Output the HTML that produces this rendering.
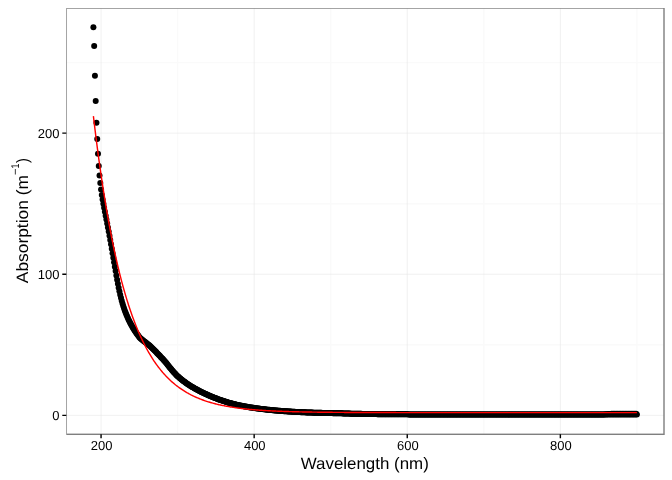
<!DOCTYPE html>
<html><head><meta charset="utf-8"><title>Absorption</title>
<style>html,body{margin:0;padding:0;background:#fff}body{width:672px;height:480px;overflow:hidden}svg{display:block}text{font-family:"Liberation Sans",sans-serif;fill:#000;text-rendering:geometricPrecision}</style></head><body>
<svg width="672" height="480" viewBox="0 0 672 480">
<rect x="0" y="0" width="672" height="480" fill="#fff"/>
<path d="M66.3 344.80H664.0M66.3 203.70H664.0M66.3 62.60H664.0M177.61 8.0V434.3M330.70 8.0V434.3M483.80 8.0V434.3M636.90 8.0V434.3" stroke="#fafafa" stroke-width="1.42" fill="none"/>
<path d="M66.3 415.35H664.0M66.3 274.25H664.0M66.3 133.15H664.0M101.06 8.0V434.3M254.16 8.0V434.3M407.25 8.0V434.3M560.36 8.0V434.3" stroke="#e5e5e5" stroke-width="0.6" fill="none"/>
<g fill="#000">
<circle cx="93.40" cy="27.25" r="3.0"/>
<circle cx="94.17" cy="45.90" r="3.0"/>
<circle cx="94.93" cy="75.75" r="3.0"/>
<circle cx="95.70" cy="100.90" r="3.0"/>
<circle cx="96.46" cy="122.75" r="3.0"/>
<circle cx="97.23" cy="139.00" r="3.0"/>
<circle cx="97.99" cy="153.75" r="3.0"/>
<circle cx="98.76" cy="165.90" r="3.0"/>
<circle cx="99.52" cy="175.60" r="3.0"/>
<circle cx="100.29" cy="183.10" r="3.0"/>
<circle cx="101.06" cy="189.60" r="3.0"/>
<circle cx="101.82" cy="195.00" r="3.0"/>
<circle cx="102.59" cy="199.55" r="3.0"/>
<circle cx="103.35" cy="203.79" r="3.0"/>
<circle cx="104.12" cy="207.84" r="3.0"/>
<circle cx="104.88" cy="211.77" r="3.0"/>
<circle cx="105.65" cy="215.65" r="3.0"/>
<circle cx="106.41" cy="219.51" r="3.0"/>
<circle cx="107.18" cy="223.41" r="3.0"/>
<circle cx="107.94" cy="227.40" r="3.0"/>
<circle cx="108.71" cy="231.51" r="3.0"/>
<circle cx="109.48" cy="235.71" r="3.0"/>
<circle cx="110.24" cy="240.00" r="3.0"/>
<circle cx="111.01" cy="244.37" r="3.0"/>
<circle cx="111.77" cy="248.81" r="3.0"/>
<circle cx="112.54" cy="253.28" r="3.0"/>
<circle cx="113.30" cy="257.77" r="3.0"/>
<circle cx="114.07" cy="262.25" r="3.0"/>
<circle cx="114.83" cy="266.70" r="3.0"/>
<circle cx="115.60" cy="271.11" r="3.0"/>
<circle cx="116.37" cy="275.44" r="3.0"/>
<circle cx="117.13" cy="279.69" r="3.0"/>
<circle cx="117.90" cy="283.80" r="3.0"/>
<circle cx="118.66" cy="287.70" r="3.0"/>
<circle cx="119.43" cy="291.34" r="3.0"/>
<circle cx="120.19" cy="294.72" r="3.0"/>
<circle cx="120.96" cy="297.85" r="3.0"/>
<circle cx="121.72" cy="300.74" r="3.0"/>
<circle cx="122.49" cy="303.42" r="3.0"/>
<circle cx="123.25" cy="305.93" r="3.0"/>
<circle cx="124.02" cy="308.26" r="3.0"/>
<circle cx="124.79" cy="310.45" r="3.0"/>
<circle cx="125.55" cy="312.51" r="3.0"/>
<circle cx="126.32" cy="314.45" r="3.0"/>
<circle cx="127.08" cy="316.28" r="3.0"/>
<circle cx="127.85" cy="318.02" r="3.0"/>
<circle cx="128.61" cy="319.67" r="3.0"/>
<circle cx="129.38" cy="321.25" r="3.0"/>
<circle cx="130.14" cy="322.76" r="3.0"/>
<circle cx="130.91" cy="324.20" r="3.0"/>
<circle cx="131.68" cy="325.58" r="3.0"/>
<circle cx="132.44" cy="326.92" r="3.0"/>
<circle cx="133.21" cy="328.20" r="3.0"/>
<circle cx="133.97" cy="329.44" r="3.0"/>
<circle cx="134.74" cy="330.63" r="3.0"/>
<circle cx="135.50" cy="331.79" r="3.0"/>
<circle cx="136.27" cy="332.91" r="3.0"/>
<circle cx="137.03" cy="334.00" r="3.0"/>
<circle cx="137.80" cy="335.06" r="3.0"/>
<circle cx="138.56" cy="336.12" r="3.0"/>
<circle cx="139.33" cy="337.13" r="3.0"/>
<circle cx="140.10" cy="337.95" r="3.0"/>
<circle cx="140.86" cy="338.64" r="3.0"/>
<circle cx="141.63" cy="339.27" r="3.0"/>
<circle cx="142.39" cy="339.90" r="3.0"/>
<circle cx="143.16" cy="340.54" r="3.0"/>
<circle cx="143.92" cy="341.16" r="3.0"/>
<circle cx="144.69" cy="341.76" r="3.0"/>
<circle cx="145.45" cy="342.35" r="3.0"/>
<circle cx="146.22" cy="342.94" r="3.0"/>
<circle cx="146.99" cy="343.54" r="3.0"/>
<circle cx="147.75" cy="344.13" r="3.0"/>
<circle cx="148.52" cy="344.74" r="3.0"/>
<circle cx="149.28" cy="345.37" r="3.0"/>
<circle cx="150.05" cy="346.02" r="3.0"/>
<circle cx="150.81" cy="346.70" r="3.0"/>
<circle cx="151.58" cy="347.41" r="3.0"/>
<circle cx="152.34" cy="348.15" r="3.0"/>
<circle cx="153.11" cy="348.91" r="3.0"/>
<circle cx="153.87" cy="349.69" r="3.0"/>
<circle cx="154.64" cy="350.48" r="3.0"/>
<circle cx="155.41" cy="351.28" r="3.0"/>
<circle cx="156.17" cy="352.09" r="3.0"/>
<circle cx="156.94" cy="352.90" r="3.0"/>
<circle cx="157.70" cy="353.70" r="3.0"/>
<circle cx="158.47" cy="354.49" r="3.0"/>
<circle cx="159.23" cy="355.29" r="3.0"/>
<circle cx="160.00" cy="356.08" r="3.0"/>
<circle cx="160.76" cy="356.88" r="3.0"/>
<circle cx="161.53" cy="357.69" r="3.0"/>
<circle cx="162.30" cy="358.51" r="3.0"/>
<circle cx="163.06" cy="359.33" r="3.0"/>
<circle cx="163.83" cy="360.18" r="3.0"/>
<circle cx="164.59" cy="361.03" r="3.0"/>
<circle cx="165.36" cy="361.91" r="3.0"/>
<circle cx="166.12" cy="362.83" r="3.0"/>
<circle cx="166.89" cy="363.77" r="3.0"/>
<circle cx="167.65" cy="364.74" r="3.0"/>
<circle cx="168.42" cy="365.71" r="3.0"/>
<circle cx="169.18" cy="366.67" r="3.0"/>
<circle cx="169.95" cy="367.63" r="3.0"/>
<circle cx="170.72" cy="368.56" r="3.0"/>
<circle cx="171.48" cy="369.47" r="3.0"/>
<circle cx="172.25" cy="370.38" r="3.0"/>
<circle cx="173.01" cy="371.28" r="3.0"/>
<circle cx="173.78" cy="372.17" r="3.0"/>
<circle cx="174.54" cy="373.04" r="3.0"/>
<circle cx="175.31" cy="373.87" r="3.0"/>
<circle cx="176.07" cy="374.66" r="3.0"/>
<circle cx="176.84" cy="375.41" r="3.0"/>
<circle cx="177.61" cy="376.13" r="3.0"/>
<circle cx="178.37" cy="376.82" r="3.0"/>
<circle cx="179.14" cy="377.49" r="3.0"/>
<circle cx="179.90" cy="378.15" r="3.0"/>
<circle cx="180.67" cy="378.79" r="3.0"/>
<circle cx="181.43" cy="379.42" r="3.0"/>
<circle cx="182.20" cy="380.04" r="3.0"/>
<circle cx="182.96" cy="380.64" r="3.0"/>
<circle cx="183.73" cy="381.22" r="3.0"/>
<circle cx="184.49" cy="381.80" r="3.0"/>
<circle cx="185.26" cy="382.36" r="3.0"/>
<circle cx="186.03" cy="382.90" r="3.0"/>
<circle cx="186.79" cy="383.44" r="3.0"/>
<circle cx="187.56" cy="383.96" r="3.0"/>
<circle cx="188.32" cy="384.48" r="3.0"/>
<circle cx="189.09" cy="384.98" r="3.0"/>
<circle cx="189.85" cy="385.47" r="3.0"/>
<circle cx="190.62" cy="385.96" r="3.0"/>
<circle cx="191.38" cy="386.43" r="3.0"/>
<circle cx="192.15" cy="386.90" r="3.0"/>
<circle cx="192.92" cy="387.36" r="3.0"/>
<circle cx="193.68" cy="387.81" r="3.0"/>
<circle cx="194.45" cy="388.25" r="3.0"/>
<circle cx="195.21" cy="388.68" r="3.0"/>
<circle cx="195.98" cy="389.11" r="3.0"/>
<circle cx="196.74" cy="389.53" r="3.0"/>
<circle cx="197.51" cy="389.94" r="3.0"/>
<circle cx="198.27" cy="390.35" r="3.0"/>
<circle cx="199.04" cy="390.75" r="3.0"/>
<circle cx="199.80" cy="391.15" r="3.0"/>
<circle cx="200.57" cy="391.54" r="3.0"/>
<circle cx="201.34" cy="391.92" r="3.0"/>
<circle cx="202.10" cy="392.30" r="3.0"/>
<circle cx="202.87" cy="392.67" r="3.0"/>
<circle cx="203.63" cy="393.04" r="3.0"/>
<circle cx="204.40" cy="393.40" r="3.0"/>
<circle cx="205.16" cy="393.76" r="3.0"/>
<circle cx="205.93" cy="394.12" r="3.0"/>
<circle cx="206.69" cy="394.47" r="3.0"/>
<circle cx="207.46" cy="394.81" r="3.0"/>
<circle cx="208.22" cy="395.15" r="3.0"/>
<circle cx="208.99" cy="395.49" r="3.0"/>
<circle cx="209.76" cy="395.82" r="3.0"/>
<circle cx="210.52" cy="396.14" r="3.0"/>
<circle cx="211.29" cy="396.47" r="3.0"/>
<circle cx="212.05" cy="396.79" r="3.0"/>
<circle cx="212.82" cy="397.10" r="3.0"/>
<circle cx="213.58" cy="397.41" r="3.0"/>
<circle cx="214.35" cy="397.72" r="3.0"/>
<circle cx="215.11" cy="398.02" r="3.0"/>
<circle cx="215.88" cy="398.32" r="3.0"/>
<circle cx="216.65" cy="398.62" r="3.0"/>
<circle cx="217.41" cy="398.91" r="3.0"/>
<circle cx="218.18" cy="399.20" r="3.0"/>
<circle cx="218.94" cy="399.48" r="3.0"/>
<circle cx="219.71" cy="399.76" r="3.0"/>
<circle cx="220.47" cy="400.03" r="3.0"/>
<circle cx="221.24" cy="400.30" r="3.0"/>
<circle cx="222.00" cy="400.57" r="3.0"/>
<circle cx="222.77" cy="400.83" r="3.0"/>
<circle cx="223.53" cy="401.08" r="3.0"/>
<circle cx="224.30" cy="401.33" r="3.0"/>
<circle cx="225.07" cy="401.58" r="3.0"/>
<circle cx="225.83" cy="401.82" r="3.0"/>
<circle cx="226.60" cy="402.06" r="3.0"/>
<circle cx="227.36" cy="402.29" r="3.0"/>
<circle cx="228.13" cy="402.51" r="3.0"/>
<circle cx="228.89" cy="402.74" r="3.0"/>
<circle cx="229.66" cy="402.95" r="3.0"/>
<circle cx="230.42" cy="403.16" r="3.0"/>
<circle cx="231.19" cy="403.37" r="3.0"/>
<circle cx="231.96" cy="403.57" r="3.0"/>
<circle cx="232.72" cy="403.77" r="3.0"/>
<circle cx="233.49" cy="403.97" r="3.0"/>
<circle cx="234.25" cy="404.16" r="3.0"/>
<circle cx="235.02" cy="404.34" r="3.0"/>
<circle cx="235.78" cy="404.53" r="3.0"/>
<circle cx="236.55" cy="404.71" r="3.0"/>
<circle cx="237.31" cy="404.88" r="3.0"/>
<circle cx="238.08" cy="405.05" r="3.0"/>
<circle cx="238.84" cy="405.22" r="3.0"/>
<circle cx="239.61" cy="405.39" r="3.0"/>
<circle cx="240.38" cy="405.55" r="3.0"/>
<circle cx="241.14" cy="405.71" r="3.0"/>
<circle cx="241.91" cy="405.86" r="3.0"/>
<circle cx="242.67" cy="406.01" r="3.0"/>
<circle cx="243.44" cy="406.16" r="3.0"/>
<circle cx="244.20" cy="406.31" r="3.0"/>
<circle cx="244.97" cy="406.45" r="3.0"/>
<circle cx="245.73" cy="406.59" r="3.0"/>
<circle cx="246.50" cy="406.73" r="3.0"/>
<circle cx="247.27" cy="406.86" r="3.0"/>
<circle cx="248.03" cy="407.00" r="3.0"/>
<circle cx="248.80" cy="407.13" r="3.0"/>
<circle cx="249.56" cy="407.25" r="3.0"/>
<circle cx="250.33" cy="407.38" r="3.0"/>
<circle cx="251.09" cy="407.50" r="3.0"/>
<circle cx="251.86" cy="407.62" r="3.0"/>
<circle cx="252.62" cy="407.74" r="3.0"/>
<circle cx="253.39" cy="407.86" r="3.0"/>
<circle cx="254.16" cy="407.97" r="3.0"/>
<circle cx="254.92" cy="408.08" r="3.0"/>
<circle cx="255.69" cy="408.19" r="3.0"/>
<circle cx="256.45" cy="408.30" r="3.0"/>
<circle cx="257.22" cy="408.41" r="3.0"/>
<circle cx="257.98" cy="408.51" r="3.0"/>
<circle cx="258.75" cy="408.61" r="3.0"/>
<circle cx="259.51" cy="408.71" r="3.0"/>
<circle cx="260.28" cy="408.81" r="3.0"/>
<circle cx="261.04" cy="408.91" r="3.0"/>
<circle cx="261.81" cy="409.01" r="3.0"/>
<circle cx="262.58" cy="409.10" r="3.0"/>
<circle cx="263.34" cy="409.19" r="3.0"/>
<circle cx="264.11" cy="409.28" r="3.0"/>
<circle cx="264.87" cy="409.37" r="3.0"/>
<circle cx="265.64" cy="409.46" r="3.0"/>
<circle cx="266.40" cy="409.54" r="3.0"/>
<circle cx="267.17" cy="409.63" r="3.0"/>
<circle cx="267.93" cy="409.71" r="3.0"/>
<circle cx="268.70" cy="409.79" r="3.0"/>
<circle cx="269.47" cy="409.87" r="3.0"/>
<circle cx="270.23" cy="409.95" r="3.0"/>
<circle cx="271.00" cy="410.03" r="3.0"/>
<circle cx="271.76" cy="410.10" r="3.0"/>
<circle cx="272.53" cy="410.18" r="3.0"/>
<circle cx="273.29" cy="410.25" r="3.0"/>
<circle cx="274.06" cy="410.32" r="3.0"/>
<circle cx="274.82" cy="410.40" r="3.0"/>
<circle cx="275.59" cy="410.46" r="3.0"/>
<circle cx="276.35" cy="410.53" r="3.0"/>
<circle cx="277.12" cy="410.60" r="3.0"/>
<circle cx="277.89" cy="410.67" r="3.0"/>
<circle cx="278.65" cy="410.73" r="3.0"/>
<circle cx="279.42" cy="410.79" r="3.0"/>
<circle cx="280.18" cy="410.86" r="3.0"/>
<circle cx="280.95" cy="410.92" r="3.0"/>
<circle cx="281.71" cy="410.98" r="3.0"/>
<circle cx="282.48" cy="411.03" r="3.0"/>
<circle cx="283.24" cy="411.09" r="3.0"/>
<circle cx="284.01" cy="411.15" r="3.0"/>
<circle cx="284.77" cy="411.20" r="3.0"/>
<circle cx="285.54" cy="411.26" r="3.0"/>
<circle cx="286.31" cy="411.31" r="3.0"/>
<circle cx="287.07" cy="411.36" r="3.0"/>
<circle cx="287.84" cy="411.42" r="3.0"/>
<circle cx="288.60" cy="411.47" r="3.0"/>
<circle cx="289.37" cy="411.51" r="3.0"/>
<circle cx="290.13" cy="411.56" r="3.0"/>
<circle cx="290.90" cy="411.61" r="3.0"/>
<circle cx="291.66" cy="411.66" r="3.0"/>
<circle cx="292.43" cy="411.70" r="3.0"/>
<circle cx="293.20" cy="411.75" r="3.0"/>
<circle cx="293.96" cy="411.79" r="3.0"/>
<circle cx="294.73" cy="411.83" r="3.0"/>
<circle cx="295.49" cy="411.88" r="3.0"/>
<circle cx="296.26" cy="411.92" r="3.0"/>
<circle cx="297.02" cy="411.96" r="3.0"/>
<circle cx="297.79" cy="412.00" r="3.0"/>
<circle cx="298.55" cy="412.04" r="3.0"/>
<circle cx="299.32" cy="412.07" r="3.0"/>
<circle cx="300.09" cy="412.11" r="3.0"/>
<circle cx="300.85" cy="412.15" r="3.0"/>
<circle cx="301.62" cy="412.18" r="3.0"/>
<circle cx="302.38" cy="412.22" r="3.0"/>
<circle cx="303.15" cy="412.25" r="3.0"/>
<circle cx="303.91" cy="412.28" r="3.0"/>
<circle cx="304.68" cy="412.32" r="3.0"/>
<circle cx="305.44" cy="412.35" r="3.0"/>
<circle cx="306.21" cy="412.38" r="3.0"/>
<circle cx="306.97" cy="412.41" r="3.0"/>
<circle cx="307.74" cy="412.44" r="3.0"/>
<circle cx="308.51" cy="412.47" r="3.0"/>
<circle cx="309.27" cy="412.50" r="3.0"/>
<circle cx="310.04" cy="412.53" r="3.0"/>
<circle cx="310.80" cy="412.55" r="3.0"/>
<circle cx="311.57" cy="412.58" r="3.0"/>
<circle cx="312.33" cy="412.60" r="3.0"/>
<circle cx="313.10" cy="412.63" r="3.0"/>
<circle cx="313.86" cy="412.65" r="3.0"/>
<circle cx="314.63" cy="412.68" r="3.0"/>
<circle cx="315.39" cy="412.70" r="3.0"/>
<circle cx="316.16" cy="412.73" r="3.0"/>
<circle cx="316.93" cy="412.75" r="3.0"/>
<circle cx="317.69" cy="412.77" r="3.0"/>
<circle cx="318.46" cy="412.79" r="3.0"/>
<circle cx="319.22" cy="412.81" r="3.0"/>
<circle cx="319.99" cy="412.83" r="3.0"/>
<circle cx="320.75" cy="412.85" r="3.0"/>
<circle cx="321.52" cy="412.87" r="3.0"/>
<circle cx="322.28" cy="412.89" r="3.0"/>
<circle cx="323.05" cy="412.91" r="3.0"/>
<circle cx="323.82" cy="412.93" r="3.0"/>
<circle cx="324.58" cy="412.94" r="3.0"/>
<circle cx="325.35" cy="412.96" r="3.0"/>
<circle cx="326.11" cy="412.98" r="3.0"/>
<circle cx="326.88" cy="413.00" r="3.0"/>
<circle cx="327.64" cy="413.01" r="3.0"/>
<circle cx="328.41" cy="413.03" r="3.0"/>
<circle cx="329.17" cy="413.05" r="3.0"/>
<circle cx="329.94" cy="413.07" r="3.0"/>
<circle cx="330.70" cy="413.08" r="3.0"/>
<circle cx="331.47" cy="413.10" r="3.0"/>
<circle cx="332.24" cy="413.12" r="3.0"/>
<circle cx="333.00" cy="413.14" r="3.0"/>
<circle cx="333.77" cy="413.15" r="3.0"/>
<circle cx="334.53" cy="413.17" r="3.0"/>
<circle cx="335.30" cy="413.19" r="3.0"/>
<circle cx="336.06" cy="413.21" r="3.0"/>
<circle cx="336.83" cy="413.23" r="3.0"/>
<circle cx="337.59" cy="413.25" r="3.0"/>
<circle cx="338.36" cy="413.27" r="3.0"/>
<circle cx="339.13" cy="413.29" r="3.0"/>
<circle cx="339.89" cy="413.31" r="3.0"/>
<circle cx="340.66" cy="413.33" r="3.0"/>
<circle cx="341.42" cy="413.35" r="3.0"/>
<circle cx="342.19" cy="413.37" r="3.0"/>
<circle cx="342.95" cy="413.39" r="3.0"/>
<circle cx="343.72" cy="413.42" r="3.0"/>
<circle cx="344.48" cy="413.44" r="3.0"/>
<circle cx="345.25" cy="413.46" r="3.0"/>
<circle cx="346.01" cy="413.49" r="3.0"/>
<circle cx="346.78" cy="413.51" r="3.0"/>
<circle cx="347.55" cy="413.54" r="3.0"/>
<circle cx="348.31" cy="413.56" r="3.0"/>
<circle cx="349.08" cy="413.59" r="3.0"/>
<circle cx="349.84" cy="413.61" r="3.0"/>
<circle cx="350.61" cy="413.63" r="3.0"/>
<circle cx="351.37" cy="413.65" r="3.0"/>
<circle cx="352.14" cy="413.67" r="3.0"/>
<circle cx="352.90" cy="413.69" r="3.0"/>
<circle cx="353.67" cy="413.70" r="3.0"/>
<circle cx="354.44" cy="413.72" r="3.0"/>
<circle cx="355.20" cy="413.74" r="3.0"/>
<circle cx="355.97" cy="413.76" r="3.0"/>
<circle cx="356.73" cy="413.77" r="3.0"/>
<circle cx="357.50" cy="413.79" r="3.0"/>
<circle cx="358.26" cy="413.80" r="3.0"/>
<circle cx="359.03" cy="413.82" r="3.0"/>
<circle cx="359.79" cy="413.84" r="3.0"/>
<circle cx="360.56" cy="413.85" r="3.0"/>
<circle cx="361.33" cy="413.87" r="3.0"/>
<circle cx="362.09" cy="413.88" r="3.0"/>
<circle cx="362.86" cy="413.90" r="3.0"/>
<circle cx="363.62" cy="413.91" r="3.0"/>
<circle cx="364.39" cy="413.93" r="3.0"/>
<circle cx="365.15" cy="413.94" r="3.0"/>
<circle cx="365.92" cy="413.95" r="3.0"/>
<circle cx="366.68" cy="413.97" r="3.0"/>
<circle cx="367.45" cy="413.98" r="3.0"/>
<circle cx="368.21" cy="413.99" r="3.0"/>
<circle cx="368.98" cy="414.01" r="3.0"/>
<circle cx="369.75" cy="414.02" r="3.0"/>
<circle cx="370.51" cy="414.03" r="3.0"/>
<circle cx="371.28" cy="414.04" r="3.0"/>
<circle cx="372.04" cy="414.06" r="3.0"/>
<circle cx="372.81" cy="414.07" r="3.0"/>
<circle cx="373.57" cy="414.08" r="3.0"/>
<circle cx="374.34" cy="414.09" r="3.0"/>
<circle cx="375.10" cy="414.10" r="3.0"/>
<circle cx="375.87" cy="414.11" r="3.0"/>
<circle cx="376.63" cy="414.12" r="3.0"/>
<circle cx="377.40" cy="414.13" r="3.0"/>
<circle cx="378.17" cy="414.14" r="3.0"/>
<circle cx="378.93" cy="414.15" r="3.0"/>
<circle cx="379.70" cy="414.16" r="3.0"/>
<circle cx="380.46" cy="414.17" r="3.0"/>
<circle cx="381.23" cy="414.18" r="3.0"/>
<circle cx="381.99" cy="414.19" r="3.0"/>
<circle cx="382.76" cy="414.20" r="3.0"/>
<circle cx="383.52" cy="414.20" r="3.0"/>
<circle cx="384.29" cy="414.21" r="3.0"/>
<circle cx="385.06" cy="414.22" r="3.0"/>
<circle cx="385.82" cy="414.23" r="3.0"/>
<circle cx="386.59" cy="414.24" r="3.0"/>
<circle cx="387.35" cy="414.24" r="3.0"/>
<circle cx="388.12" cy="414.25" r="3.0"/>
<circle cx="388.88" cy="414.26" r="3.0"/>
<circle cx="389.65" cy="414.26" r="3.0"/>
<circle cx="390.41" cy="414.27" r="3.0"/>
<circle cx="391.18" cy="414.27" r="3.0"/>
<circle cx="391.94" cy="414.28" r="3.0"/>
<circle cx="392.71" cy="414.29" r="3.0"/>
<circle cx="393.48" cy="414.29" r="3.0"/>
<circle cx="394.24" cy="414.30" r="3.0"/>
<circle cx="395.01" cy="414.30" r="3.0"/>
<circle cx="395.77" cy="414.30" r="3.0"/>
<circle cx="396.54" cy="414.31" r="3.0"/>
<circle cx="397.30" cy="414.31" r="3.0"/>
<circle cx="398.07" cy="414.32" r="3.0"/>
<circle cx="398.83" cy="414.32" r="3.0"/>
<circle cx="399.60" cy="414.33" r="3.0"/>
<circle cx="400.37" cy="414.33" r="3.0"/>
<circle cx="401.13" cy="414.34" r="3.0"/>
<circle cx="401.90" cy="414.34" r="3.0"/>
<circle cx="402.66" cy="414.34" r="3.0"/>
<circle cx="403.43" cy="414.35" r="3.0"/>
<circle cx="404.19" cy="414.35" r="3.0"/>
<circle cx="404.96" cy="414.36" r="3.0"/>
<circle cx="405.72" cy="414.36" r="3.0"/>
<circle cx="406.49" cy="414.37" r="3.0"/>
<circle cx="407.25" cy="414.37" r="3.0"/>
<circle cx="408.02" cy="414.37" r="3.0"/>
<circle cx="408.79" cy="414.38" r="3.0"/>
<circle cx="409.55" cy="414.38" r="3.0"/>
<circle cx="410.32" cy="414.39" r="3.0"/>
<circle cx="411.08" cy="414.39" r="3.0"/>
<circle cx="411.85" cy="414.39" r="3.0"/>
<circle cx="412.61" cy="414.40" r="3.0"/>
<circle cx="413.38" cy="414.40" r="3.0"/>
<circle cx="414.14" cy="414.40" r="3.0"/>
<circle cx="414.91" cy="414.41" r="3.0"/>
<circle cx="415.68" cy="414.41" r="3.0"/>
<circle cx="416.44" cy="414.42" r="3.0"/>
<circle cx="417.21" cy="414.42" r="3.0"/>
<circle cx="417.97" cy="414.42" r="3.0"/>
<circle cx="418.74" cy="414.43" r="3.0"/>
<circle cx="419.50" cy="414.43" r="3.0"/>
<circle cx="420.27" cy="414.43" r="3.0"/>
<circle cx="421.03" cy="414.44" r="3.0"/>
<circle cx="421.80" cy="414.44" r="3.0"/>
<circle cx="422.56" cy="414.44" r="3.0"/>
<circle cx="423.33" cy="414.44" r="3.0"/>
<circle cx="424.10" cy="414.45" r="3.0"/>
<circle cx="424.86" cy="414.45" r="3.0"/>
<circle cx="425.63" cy="414.45" r="3.0"/>
<circle cx="426.39" cy="414.46" r="3.0"/>
<circle cx="427.16" cy="414.46" r="3.0"/>
<circle cx="427.92" cy="414.46" r="3.0"/>
<circle cx="428.69" cy="414.46" r="3.0"/>
<circle cx="429.45" cy="414.47" r="3.0"/>
<circle cx="430.22" cy="414.47" r="3.0"/>
<circle cx="430.99" cy="414.47" r="3.0"/>
<circle cx="431.75" cy="414.47" r="3.0"/>
<circle cx="432.52" cy="414.47" r="3.0"/>
<circle cx="433.28" cy="414.48" r="3.0"/>
<circle cx="434.05" cy="414.48" r="3.0"/>
<circle cx="434.81" cy="414.48" r="3.0"/>
<circle cx="435.58" cy="414.48" r="3.0"/>
<circle cx="436.34" cy="414.48" r="3.0"/>
<circle cx="437.11" cy="414.49" r="3.0"/>
<circle cx="437.88" cy="414.49" r="3.0"/>
<circle cx="438.64" cy="414.49" r="3.0"/>
<circle cx="439.41" cy="414.49" r="3.0"/>
<circle cx="440.17" cy="414.49" r="3.0"/>
<circle cx="440.94" cy="414.49" r="3.0"/>
<circle cx="441.70" cy="414.49" r="3.0"/>
<circle cx="442.47" cy="414.50" r="3.0"/>
<circle cx="443.23" cy="414.50" r="3.0"/>
<circle cx="444.00" cy="414.50" r="3.0"/>
<circle cx="444.76" cy="414.50" r="3.0"/>
<circle cx="445.53" cy="414.50" r="3.0"/>
<circle cx="446.30" cy="414.50" r="3.0"/>
<circle cx="447.06" cy="414.50" r="3.0"/>
<circle cx="447.83" cy="414.50" r="3.0"/>
<circle cx="448.59" cy="414.50" r="3.0"/>
<circle cx="449.36" cy="414.50" r="3.0"/>
<circle cx="450.12" cy="414.50" r="3.0"/>
<circle cx="450.89" cy="414.50" r="3.0"/>
<circle cx="451.65" cy="414.50" r="3.0"/>
<circle cx="452.42" cy="414.50" r="3.0"/>
<circle cx="453.18" cy="414.50" r="3.0"/>
<circle cx="453.95" cy="414.50" r="3.0"/>
<circle cx="454.72" cy="414.50" r="3.0"/>
<circle cx="455.48" cy="414.50" r="3.0"/>
<circle cx="456.25" cy="414.50" r="3.0"/>
<circle cx="457.01" cy="414.50" r="3.0"/>
<circle cx="457.78" cy="414.50" r="3.0"/>
<circle cx="458.54" cy="414.50" r="3.0"/>
<circle cx="459.31" cy="414.50" r="3.0"/>
<circle cx="460.07" cy="414.50" r="3.0"/>
<circle cx="460.84" cy="414.50" r="3.0"/>
<circle cx="461.61" cy="414.50" r="3.0"/>
<circle cx="462.37" cy="414.50" r="3.0"/>
<circle cx="463.14" cy="414.50" r="3.0"/>
<circle cx="463.90" cy="414.50" r="3.0"/>
<circle cx="464.67" cy="414.50" r="3.0"/>
<circle cx="465.43" cy="414.50" r="3.0"/>
<circle cx="466.20" cy="414.50" r="3.0"/>
<circle cx="466.96" cy="414.50" r="3.0"/>
<circle cx="467.73" cy="414.50" r="3.0"/>
<circle cx="468.50" cy="414.50" r="3.0"/>
<circle cx="469.26" cy="414.50" r="3.0"/>
<circle cx="470.03" cy="414.50" r="3.0"/>
<circle cx="470.79" cy="414.50" r="3.0"/>
<circle cx="471.56" cy="414.50" r="3.0"/>
<circle cx="472.32" cy="414.50" r="3.0"/>
<circle cx="473.09" cy="414.50" r="3.0"/>
<circle cx="473.85" cy="414.50" r="3.0"/>
<circle cx="474.62" cy="414.50" r="3.0"/>
<circle cx="475.38" cy="414.50" r="3.0"/>
<circle cx="476.15" cy="414.50" r="3.0"/>
<circle cx="476.92" cy="414.50" r="3.0"/>
<circle cx="477.68" cy="414.50" r="3.0"/>
<circle cx="478.45" cy="414.50" r="3.0"/>
<circle cx="479.21" cy="414.50" r="3.0"/>
<circle cx="479.98" cy="414.50" r="3.0"/>
<circle cx="480.74" cy="414.50" r="3.0"/>
<circle cx="481.51" cy="414.50" r="3.0"/>
<circle cx="482.27" cy="414.50" r="3.0"/>
<circle cx="483.04" cy="414.50" r="3.0"/>
<circle cx="483.80" cy="414.50" r="3.0"/>
<circle cx="484.57" cy="414.50" r="3.0"/>
<circle cx="485.34" cy="414.50" r="3.0"/>
<circle cx="486.10" cy="414.50" r="3.0"/>
<circle cx="486.87" cy="414.50" r="3.0"/>
<circle cx="487.63" cy="414.50" r="3.0"/>
<circle cx="488.40" cy="414.50" r="3.0"/>
<circle cx="489.16" cy="414.50" r="3.0"/>
<circle cx="489.93" cy="414.50" r="3.0"/>
<circle cx="490.69" cy="414.50" r="3.0"/>
<circle cx="491.46" cy="414.50" r="3.0"/>
<circle cx="492.23" cy="414.50" r="3.0"/>
<circle cx="492.99" cy="414.50" r="3.0"/>
<circle cx="493.76" cy="414.50" r="3.0"/>
<circle cx="494.52" cy="414.50" r="3.0"/>
<circle cx="495.29" cy="414.50" r="3.0"/>
<circle cx="496.05" cy="414.50" r="3.0"/>
<circle cx="496.82" cy="414.50" r="3.0"/>
<circle cx="497.58" cy="414.50" r="3.0"/>
<circle cx="498.35" cy="414.50" r="3.0"/>
<circle cx="499.12" cy="414.50" r="3.0"/>
<circle cx="499.88" cy="414.50" r="3.0"/>
<circle cx="500.65" cy="414.50" r="3.0"/>
<circle cx="501.41" cy="414.50" r="3.0"/>
<circle cx="502.18" cy="414.50" r="3.0"/>
<circle cx="502.94" cy="414.50" r="3.0"/>
<circle cx="503.71" cy="414.50" r="3.0"/>
<circle cx="504.47" cy="414.50" r="3.0"/>
<circle cx="505.24" cy="414.50" r="3.0"/>
<circle cx="506.00" cy="414.50" r="3.0"/>
<circle cx="506.77" cy="414.50" r="3.0"/>
<circle cx="507.54" cy="414.50" r="3.0"/>
<circle cx="508.30" cy="414.50" r="3.0"/>
<circle cx="509.07" cy="414.50" r="3.0"/>
<circle cx="509.83" cy="414.50" r="3.0"/>
<circle cx="510.60" cy="414.50" r="3.0"/>
<circle cx="511.36" cy="414.50" r="3.0"/>
<circle cx="512.13" cy="414.50" r="3.0"/>
<circle cx="512.89" cy="414.50" r="3.0"/>
<circle cx="513.66" cy="414.50" r="3.0"/>
<circle cx="514.42" cy="414.50" r="3.0"/>
<circle cx="515.19" cy="414.50" r="3.0"/>
<circle cx="515.96" cy="414.50" r="3.0"/>
<circle cx="516.72" cy="414.50" r="3.0"/>
<circle cx="517.49" cy="414.50" r="3.0"/>
<circle cx="518.25" cy="414.50" r="3.0"/>
<circle cx="519.02" cy="414.50" r="3.0"/>
<circle cx="519.78" cy="414.50" r="3.0"/>
<circle cx="520.55" cy="414.50" r="3.0"/>
<circle cx="521.31" cy="414.50" r="3.0"/>
<circle cx="522.08" cy="414.50" r="3.0"/>
<circle cx="522.85" cy="414.50" r="3.0"/>
<circle cx="523.61" cy="414.50" r="3.0"/>
<circle cx="524.38" cy="414.50" r="3.0"/>
<circle cx="525.14" cy="414.50" r="3.0"/>
<circle cx="525.91" cy="414.50" r="3.0"/>
<circle cx="526.67" cy="414.50" r="3.0"/>
<circle cx="527.44" cy="414.50" r="3.0"/>
<circle cx="528.20" cy="414.50" r="3.0"/>
<circle cx="528.97" cy="414.50" r="3.0"/>
<circle cx="529.74" cy="414.50" r="3.0"/>
<circle cx="530.50" cy="414.50" r="3.0"/>
<circle cx="531.27" cy="414.50" r="3.0"/>
<circle cx="532.03" cy="414.50" r="3.0"/>
<circle cx="532.80" cy="414.50" r="3.0"/>
<circle cx="533.56" cy="414.50" r="3.0"/>
<circle cx="534.33" cy="414.50" r="3.0"/>
<circle cx="535.09" cy="414.50" r="3.0"/>
<circle cx="535.86" cy="414.50" r="3.0"/>
<circle cx="536.62" cy="414.50" r="3.0"/>
<circle cx="537.39" cy="414.50" r="3.0"/>
<circle cx="538.16" cy="414.50" r="3.0"/>
<circle cx="538.92" cy="414.50" r="3.0"/>
<circle cx="539.69" cy="414.50" r="3.0"/>
<circle cx="540.45" cy="414.50" r="3.0"/>
<circle cx="541.22" cy="414.50" r="3.0"/>
<circle cx="541.98" cy="414.50" r="3.0"/>
<circle cx="542.75" cy="414.50" r="3.0"/>
<circle cx="543.51" cy="414.50" r="3.0"/>
<circle cx="544.28" cy="414.50" r="3.0"/>
<circle cx="545.04" cy="414.50" r="3.0"/>
<circle cx="545.81" cy="414.50" r="3.0"/>
<circle cx="546.58" cy="414.50" r="3.0"/>
<circle cx="547.34" cy="414.50" r="3.0"/>
<circle cx="548.11" cy="414.50" r="3.0"/>
<circle cx="548.87" cy="414.50" r="3.0"/>
<circle cx="549.64" cy="414.50" r="3.0"/>
<circle cx="550.40" cy="414.50" r="3.0"/>
<circle cx="551.17" cy="414.50" r="3.0"/>
<circle cx="551.93" cy="414.50" r="3.0"/>
<circle cx="552.70" cy="414.50" r="3.0"/>
<circle cx="553.47" cy="414.50" r="3.0"/>
<circle cx="554.23" cy="414.50" r="3.0"/>
<circle cx="555.00" cy="414.50" r="3.0"/>
<circle cx="555.76" cy="414.50" r="3.0"/>
<circle cx="556.53" cy="414.50" r="3.0"/>
<circle cx="557.29" cy="414.50" r="3.0"/>
<circle cx="558.06" cy="414.50" r="3.0"/>
<circle cx="558.82" cy="414.50" r="3.0"/>
<circle cx="559.59" cy="414.50" r="3.0"/>
<circle cx="560.36" cy="414.50" r="3.0"/>
<circle cx="561.12" cy="414.50" r="3.0"/>
<circle cx="561.89" cy="414.50" r="3.0"/>
<circle cx="562.65" cy="414.50" r="3.0"/>
<circle cx="563.42" cy="414.50" r="3.0"/>
<circle cx="564.18" cy="414.50" r="3.0"/>
<circle cx="564.95" cy="414.50" r="3.0"/>
<circle cx="565.71" cy="414.50" r="3.0"/>
<circle cx="566.48" cy="414.50" r="3.0"/>
<circle cx="567.24" cy="414.50" r="3.0"/>
<circle cx="568.01" cy="414.50" r="3.0"/>
<circle cx="568.78" cy="414.50" r="3.0"/>
<circle cx="569.54" cy="414.50" r="3.0"/>
<circle cx="570.31" cy="414.50" r="3.0"/>
<circle cx="571.07" cy="414.50" r="3.0"/>
<circle cx="571.84" cy="414.50" r="3.0"/>
<circle cx="572.60" cy="414.50" r="3.0"/>
<circle cx="573.37" cy="414.50" r="3.0"/>
<circle cx="574.13" cy="414.50" r="3.0"/>
<circle cx="574.90" cy="414.50" r="3.0"/>
<circle cx="575.66" cy="414.50" r="3.0"/>
<circle cx="576.43" cy="414.50" r="3.0"/>
<circle cx="577.20" cy="414.50" r="3.0"/>
<circle cx="577.96" cy="414.50" r="3.0"/>
<circle cx="578.73" cy="414.50" r="3.0"/>
<circle cx="579.49" cy="414.50" r="3.0"/>
<circle cx="580.26" cy="414.50" r="3.0"/>
<circle cx="581.02" cy="414.50" r="3.0"/>
<circle cx="581.79" cy="414.50" r="3.0"/>
<circle cx="582.55" cy="414.50" r="3.0"/>
<circle cx="583.32" cy="414.50" r="3.0"/>
<circle cx="584.09" cy="414.50" r="3.0"/>
<circle cx="584.85" cy="414.50" r="3.0"/>
<circle cx="585.62" cy="414.50" r="3.0"/>
<circle cx="586.38" cy="414.50" r="3.0"/>
<circle cx="587.15" cy="414.50" r="3.0"/>
<circle cx="587.91" cy="414.50" r="3.0"/>
<circle cx="588.68" cy="414.50" r="3.0"/>
<circle cx="589.44" cy="414.50" r="3.0"/>
<circle cx="590.21" cy="414.50" r="3.0"/>
<circle cx="590.98" cy="414.50" r="3.0"/>
<circle cx="591.74" cy="414.50" r="3.0"/>
<circle cx="592.51" cy="414.50" r="3.0"/>
<circle cx="593.27" cy="414.50" r="3.0"/>
<circle cx="594.04" cy="414.50" r="3.0"/>
<circle cx="594.80" cy="414.50" r="3.0"/>
<circle cx="595.57" cy="414.50" r="3.0"/>
<circle cx="596.33" cy="414.50" r="3.0"/>
<circle cx="597.10" cy="414.50" r="3.0"/>
<circle cx="597.86" cy="414.50" r="3.0"/>
<circle cx="598.63" cy="414.50" r="3.0"/>
<circle cx="599.40" cy="414.50" r="3.0"/>
<circle cx="600.16" cy="414.50" r="3.0"/>
<circle cx="600.93" cy="414.50" r="3.0"/>
<circle cx="601.69" cy="414.50" r="3.0"/>
<circle cx="602.46" cy="414.50" r="3.0"/>
<circle cx="603.22" cy="414.50" r="3.0"/>
<circle cx="603.99" cy="414.39" r="3.0"/>
<circle cx="604.75" cy="414.50" r="3.0"/>
<circle cx="605.52" cy="414.29" r="3.0"/>
<circle cx="606.28" cy="414.50" r="3.0"/>
<circle cx="607.05" cy="414.18" r="3.0"/>
<circle cx="607.82" cy="414.50" r="3.0"/>
<circle cx="608.58" cy="414.07" r="3.0"/>
<circle cx="609.35" cy="414.50" r="3.0"/>
<circle cx="610.11" cy="413.97" r="3.0"/>
<circle cx="610.88" cy="414.50" r="3.0"/>
<circle cx="611.64" cy="413.86" r="3.0"/>
<circle cx="612.41" cy="414.50" r="3.0"/>
<circle cx="613.17" cy="413.75" r="3.0"/>
<circle cx="613.94" cy="414.50" r="3.0"/>
<circle cx="614.71" cy="413.70" r="3.0"/>
<circle cx="615.47" cy="414.50" r="3.0"/>
<circle cx="616.24" cy="413.70" r="3.0"/>
<circle cx="617.00" cy="414.50" r="3.0"/>
<circle cx="617.77" cy="413.70" r="3.0"/>
<circle cx="618.53" cy="414.50" r="3.0"/>
<circle cx="619.30" cy="413.70" r="3.0"/>
<circle cx="620.06" cy="414.50" r="3.0"/>
<circle cx="620.83" cy="413.70" r="3.0"/>
<circle cx="621.59" cy="414.50" r="3.0"/>
<circle cx="622.36" cy="413.70" r="3.0"/>
<circle cx="623.13" cy="414.50" r="3.0"/>
<circle cx="623.89" cy="413.70" r="3.0"/>
<circle cx="624.66" cy="414.50" r="3.0"/>
<circle cx="625.42" cy="413.70" r="3.0"/>
<circle cx="626.19" cy="414.50" r="3.0"/>
<circle cx="626.95" cy="413.70" r="3.0"/>
<circle cx="627.72" cy="414.50" r="3.0"/>
<circle cx="628.48" cy="413.70" r="3.0"/>
<circle cx="629.25" cy="414.50" r="3.0"/>
<circle cx="630.02" cy="413.70" r="3.0"/>
<circle cx="630.78" cy="414.50" r="3.0"/>
<circle cx="631.55" cy="413.70" r="3.0"/>
<circle cx="632.31" cy="414.50" r="3.0"/>
<circle cx="633.08" cy="413.70" r="3.0"/>
<circle cx="633.84" cy="414.50" r="3.0"/>
<circle cx="634.61" cy="413.70" r="3.0"/>
<circle cx="635.37" cy="414.50" r="3.0"/>
<circle cx="636.14" cy="413.70" r="3.0"/>
<circle cx="636.90" cy="414.50" r="3.0"/>
</g>
<path d="M93.40 116.11 L94.17 122.58 L94.93 128.91 L95.70 135.11 L96.46 141.16 L97.23 147.09 L97.99 152.89 L98.76 158.56 L99.52 164.10 L100.29 169.53 L101.06 174.83 L101.82 180.02 L102.59 185.10 L103.35 190.07 L104.12 194.93 L104.88 199.68 L105.65 204.33 L106.41 208.87 L107.18 213.32 L107.94 217.67 L108.71 221.93 L109.48 226.09 L110.24 230.16 L111.01 234.15 L111.77 238.04 L112.54 241.85 L113.30 245.58 L114.07 249.23 L114.83 252.79 L115.60 256.28 L116.37 259.70 L117.13 263.03 L117.90 266.30 L118.66 269.49 L119.43 272.62 L120.19 275.67 L120.96 278.66 L121.72 281.59 L122.49 284.45 L123.25 287.25 L124.02 289.98 L124.79 292.66 L125.55 295.28 L126.32 297.84 L127.08 300.35 L127.85 302.80 L128.61 305.20 L129.38 307.54 L130.14 309.83 L130.91 312.08 L131.68 314.27 L132.44 316.42 L133.21 318.52 L133.97 320.57 L134.74 322.58 L135.50 324.55 L136.27 326.47 L137.03 328.35 L137.80 330.19 L138.56 331.99 L139.33 333.75 L140.10 335.47 L140.86 337.16 L141.63 338.81 L142.39 340.42 L143.16 341.99 L143.92 343.54 L144.69 345.04 L145.45 346.52 L146.22 347.96 L146.99 349.37 L147.75 350.76 L148.52 352.11 L149.28 353.43 L150.05 354.72 L150.81 355.98 L151.58 357.22 L152.34 358.43 L153.11 359.61 L153.87 360.77 L154.64 361.90 L155.41 363.01 L156.17 364.09 L156.94 365.15 L157.70 366.19 L158.47 367.20 L159.23 368.19 L160.00 369.16 L160.76 370.11 L161.53 371.04 L162.30 371.95 L163.06 372.84 L163.83 373.71 L164.59 374.56 L165.36 375.39 L166.12 376.20 L166.89 376.99 L167.65 377.77 L168.42 378.53 L169.18 379.28 L169.95 380.01 L170.72 380.72 L171.48 381.41 L172.25 382.10 L173.01 382.76 L173.78 383.41 L174.54 384.05 L175.31 384.68 L176.07 385.29 L176.84 385.88 L177.61 386.47 L178.37 387.04 L179.14 387.60 L179.90 388.14 L180.67 388.68 L181.43 389.20 L182.20 389.71 L182.96 390.21 L183.73 390.70 L184.49 391.18 L185.26 391.65 L186.03 392.11 L186.79 392.56 L187.56 392.99 L188.32 393.42 L189.09 393.84 L189.85 394.25 L190.62 394.65 L191.38 395.05 L192.15 395.43 L192.92 395.80 L193.68 396.17 L194.45 396.53 L195.21 396.88 L195.98 397.23 L196.74 397.56 L197.51 397.89 L198.27 398.21 L199.04 398.53 L199.80 398.84 L200.57 399.14 L201.34 399.43 L202.10 399.72 L202.87 400.00 L203.63 400.28 L204.40 400.55 L205.16 400.81 L205.93 401.07 L206.69 401.32 L207.46 401.57 L208.22 401.81 L208.99 402.05 L209.76 402.28 L210.52 402.50 L211.29 402.72 L212.05 402.94 L212.82 403.15 L213.58 403.36 L214.35 403.56 L215.11 403.76 L215.88 403.95 L216.65 404.14 L217.41 404.33 L218.18 404.51 L218.94 404.69 L219.71 404.86 L220.47 405.03 L221.24 405.20 L222.00 405.36 L222.77 405.52 L223.53 405.67 L224.30 405.82 L225.07 405.97 L225.83 406.12 L226.60 406.26 L227.36 406.40 L228.13 406.54 L228.89 406.67 L229.66 406.80 L230.42 406.93 L231.19 407.05 L231.96 407.17 L232.72 407.29 L233.49 407.41 L234.25 407.52 L235.02 407.63 L235.78 407.74 L236.55 407.85 L237.31 407.95 L238.08 408.06 L238.84 408.16 L239.61 408.25 L240.38 408.35 L241.14 408.44 L241.91 408.53 L242.67 408.62 L243.44 408.71 L244.20 408.80 L244.97 408.88 L245.73 408.96 L246.50 409.04 L247.27 409.12 L248.03 409.20 L248.80 409.27 L249.56 409.35 L250.33 409.42 L251.09 409.49 L251.86 409.56 L252.62 409.62 L253.39 409.69 L254.16 409.75 L254.92 409.82 L255.69 409.88 L256.45 409.94 L257.22 410.00 L257.98 410.05 L258.75 410.11 L259.51 410.17 L260.28 410.22 L261.04 410.27 L261.81 410.32 L262.58 410.37 L263.34 410.42 L264.11 410.47 L264.87 410.52 L265.64 410.56 L266.40 410.61 L267.17 410.65 L267.93 410.70 L268.70 410.74 L269.47 410.78 L270.23 410.82 L271.00 410.86 L271.76 410.90 L272.53 410.94 L273.29 410.97 L274.06 411.01 L274.82 411.05 L275.59 411.08 L276.35 411.11 L277.12 411.15 L277.89 411.18 L278.65 411.21 L279.42 411.24 L280.18 411.27 L280.95 411.30 L281.71 411.33 L282.48 411.36 L283.24 411.39 L284.01 411.42 L284.77 411.44 L285.54 411.47 L286.31 411.49 L287.07 411.52 L287.84 411.54 L288.60 411.57 L289.37 411.59 L290.13 411.61 L290.90 411.63 L291.66 411.66 L292.43 411.68 L293.20 411.70 L293.96 411.72 L294.73 411.74 L295.49 411.76 L296.26 411.78 L297.02 411.80 L297.79 411.81 L298.55 411.83 L299.32 411.85 L300.09 411.87 L300.85 411.88 L301.62 411.90 L302.38 411.92 L303.15 411.93 L303.91 411.95 L304.68 411.96 L305.44 411.98 L306.21 411.99 L306.97 412.00 L307.74 412.02 L308.51 412.03 L309.27 412.04 L310.04 412.06 L310.80 412.07 L311.57 412.08 L312.33 412.09 L313.10 412.11 L313.86 412.12 L314.63 412.13 L315.39 412.14 L316.16 412.15 L316.93 412.16 L317.69 412.17 L318.46 412.18 L319.22 412.19 L319.99 412.20 L320.75 412.21 L321.52 412.22 L322.28 412.23 L323.05 412.24 L323.82 412.25 L324.58 412.25 L325.35 412.26 L326.11 412.27 L326.88 412.28 L327.64 412.29 L328.41 412.29 L329.17 412.30 L329.94 412.31 L330.70 412.32 L331.47 412.32 L332.24 412.33 L333.00 412.34 L333.77 412.34 L334.53 412.35 L335.30 412.36 L336.06 412.36 L336.83 412.37 L337.59 412.37 L338.36 412.38 L339.13 412.38 L339.89 412.39 L340.66 412.39 L341.42 412.40 L342.19 412.41 L342.95 412.41 L343.72 412.41 L344.48 412.42 L345.25 412.42 L346.01 412.43 L346.78 412.43 L347.55 412.44 L348.31 412.44 L349.08 412.45 L349.84 412.45 L350.61 412.45 L351.37 412.46 L352.14 412.46 L352.90 412.47 L353.67 412.47 L354.44 412.47 L355.20 412.48 L355.97 412.48 L356.73 412.48 L357.50 412.49 L358.26 412.49 L359.03 412.49 L359.79 412.50 L360.56 412.50 L361.33 412.50 L362.09 412.50 L362.86 412.51 L363.62 412.51 L364.39 412.51 L365.15 412.52 L365.92 412.52 L366.68 412.52 L367.45 412.52 L368.21 412.53 L368.98 412.53 L369.75 412.53 L370.51 412.53 L371.28 412.53 L372.04 412.54 L372.81 412.54 L373.57 412.54 L374.34 412.54 L375.10 412.54 L375.87 412.55 L376.63 412.55 L377.40 412.55 L378.17 412.55 L378.93 412.55 L379.70 412.56 L380.46 412.56 L381.23 412.56 L381.99 412.56 L382.76 412.56 L383.52 412.56 L384.29 412.56 L385.06 412.57 L385.82 412.57 L386.59 412.57 L387.35 412.57 L388.12 412.57 L388.88 412.57 L389.65 412.57 L390.41 412.58 L391.18 412.58 L391.94 412.58 L392.71 412.58 L393.48 412.58 L394.24 412.58 L395.01 412.58 L395.77 412.58 L396.54 412.59 L397.30 412.59 L398.07 412.59 L398.83 412.59 L399.60 412.59 L400.37 412.59 L401.13 412.59 L401.90 412.59 L402.66 412.59 L403.43 412.59 L404.19 412.59 L404.96 412.60 L405.72 412.60 L406.49 412.60 L407.25 412.60 L408.02 412.60 L408.79 412.60 L409.55 412.60 L410.32 412.60 L411.08 412.60 L411.85 412.60 L412.61 412.60 L413.38 412.60 L414.14 412.60 L414.91 412.60 L415.68 412.61 L416.44 412.61 L417.21 412.61 L417.97 412.61 L418.74 412.61 L419.50 412.61 L420.27 412.61 L421.03 412.61 L421.80 412.61 L422.56 412.61 L423.33 412.61 L424.10 412.61 L424.86 412.61 L425.63 412.61 L426.39 412.61 L427.16 412.61 L427.92 412.61 L428.69 412.61 L429.45 412.61 L430.22 412.61 L430.99 412.61 L431.75 412.62 L432.52 412.62 L433.28 412.62 L434.05 412.62 L434.81 412.62 L435.58 412.62 L436.34 412.62 L437.11 412.62 L437.88 412.62 L438.64 412.62 L439.41 412.62 L440.17 412.62 L440.94 412.62 L441.70 412.62 L442.47 412.62 L443.23 412.62 L444.00 412.62 L444.76 412.62 L445.53 412.62 L446.30 412.62 L447.06 412.62 L447.83 412.62 L448.59 412.62 L449.36 412.62 L450.12 412.62 L450.89 412.62 L451.65 412.62 L452.42 412.62 L453.18 412.62 L453.95 412.62 L454.72 412.62 L455.48 412.62 L456.25 412.62 L457.01 412.62 L457.78 412.62 L458.54 412.62 L459.31 412.62 L460.07 412.62 L460.84 412.63 L461.61 412.63 L462.37 412.63 L463.14 412.63 L463.90 412.63 L464.67 412.63 L465.43 412.63 L466.20 412.63 L466.96 412.63 L467.73 412.63 L468.50 412.63 L469.26 412.63 L470.03 412.63 L470.79 412.63 L471.56 412.63 L472.32 412.63 L473.09 412.63 L473.85 412.63 L474.62 412.63 L475.38 412.63 L476.15 412.63 L476.92 412.63 L477.68 412.63 L478.45 412.63 L479.21 412.63 L479.98 412.63 L480.74 412.63 L481.51 412.63 L482.27 412.63 L483.04 412.63 L483.80 412.63 L484.57 412.63 L485.34 412.63 L486.10 412.63 L486.87 412.63 L487.63 412.63 L488.40 412.63 L489.16 412.63 L489.93 412.63 L490.69 412.63 L491.46 412.63 L492.23 412.63 L492.99 412.63 L493.76 412.63 L494.52 412.63 L495.29 412.63 L496.05 412.63 L496.82 412.63 L497.58 412.63 L498.35 412.63 L499.12 412.63 L499.88 412.63 L500.65 412.63 L501.41 412.63 L502.18 412.63 L502.94 412.63 L503.71 412.63 L504.47 412.63 L505.24 412.63 L506.00 412.63 L506.77 412.63 L507.54 412.63 L508.30 412.63 L509.07 412.63 L509.83 412.63 L510.60 412.63 L511.36 412.63 L512.13 412.63 L512.89 412.63 L513.66 412.63 L514.42 412.63 L515.19 412.63 L515.96 412.63 L516.72 412.63 L517.49 412.63 L518.25 412.63 L519.02 412.63 L519.78 412.63 L520.55 412.63 L521.31 412.63 L522.08 412.63 L522.85 412.63 L523.61 412.63 L524.38 412.63 L525.14 412.63 L525.91 412.63 L526.67 412.63 L527.44 412.63 L528.20 412.63 L528.97 412.63 L529.74 412.63 L530.50 412.63 L531.27 412.63 L532.03 412.63 L532.80 412.63 L533.56 412.63 L534.33 412.63 L535.09 412.63 L535.86 412.63 L536.62 412.63 L537.39 412.63 L538.16 412.63 L538.92 412.63 L539.69 412.63 L540.45 412.63 L541.22 412.63 L541.98 412.63 L542.75 412.63 L543.51 412.63 L544.28 412.63 L545.04 412.63 L545.81 412.63 L546.58 412.63 L547.34 412.63 L548.11 412.63 L548.87 412.63 L549.64 412.63 L550.40 412.63 L551.17 412.63 L551.93 412.63 L552.70 412.63 L553.47 412.63 L554.23 412.63 L555.00 412.63 L555.76 412.63 L556.53 412.63 L557.29 412.63 L558.06 412.63 L558.82 412.63 L559.59 412.63 L560.36 412.63 L561.12 412.63 L561.89 412.63 L562.65 412.63 L563.42 412.63 L564.18 412.63 L564.95 412.63 L565.71 412.63 L566.48 412.63 L567.24 412.63 L568.01 412.63 L568.78 412.63 L569.54 412.63 L570.31 412.63 L571.07 412.63 L571.84 412.63 L572.60 412.63 L573.37 412.63 L574.13 412.63 L574.90 412.63 L575.66 412.63 L576.43 412.63 L577.20 412.63 L577.96 412.63 L578.73 412.63 L579.49 412.63 L580.26 412.63 L581.02 412.63 L581.79 412.63 L582.55 412.63 L583.32 412.63 L584.09 412.63 L584.85 412.63 L585.62 412.63 L586.38 412.63 L587.15 412.63 L587.91 412.63 L588.68 412.63 L589.44 412.63 L590.21 412.63 L590.98 412.63 L591.74 412.63 L592.51 412.63 L593.27 412.63 L594.04 412.63 L594.80 412.63 L595.57 412.63 L596.33 412.63 L597.10 412.63 L597.86 412.63 L598.63 412.63 L599.40 412.63 L600.16 412.63 L600.93 412.63 L601.69 412.63 L602.46 412.63 L603.22 412.63 L603.99 412.63 L604.75 412.63 L605.52 412.63 L606.28 412.63 L607.05 412.63 L607.82 412.63 L608.58 412.63 L609.35 412.63 L610.11 412.63 L610.88 412.63 L611.64 412.63 L612.41 412.63 L613.17 412.63 L613.94 412.63 L614.71 412.63 L615.47 412.63 L616.24 412.63 L617.00 412.63 L617.77 412.63 L618.53 412.63 L619.30 412.63 L620.06 412.63 L620.83 412.63 L621.59 412.63 L622.36 412.63 L623.13 412.63 L623.89 412.63 L624.66 412.63 L625.42 412.63 L626.19 412.63 L626.95 412.63 L627.72 412.63 L628.48 412.63 L629.25 412.63 L630.02 412.63 L630.78 412.63 L631.55 412.63 L632.31 412.63 L633.08 412.63 L633.84 412.63 L634.61 412.63 L635.37 412.63 L636.14 412.63 L636.90 412.63" stroke="#ff0000" stroke-width="1.42" fill="none" stroke-linejoin="round"/>
<clipPath id="pc"><rect x="66.3" y="8.0" width="598.70" height="427.30"/></clipPath>
<rect x="66.3" y="8.0" width="597.70" height="426.30" fill="none" stroke="#7f7f7f" stroke-width="1.42" clip-path="url(#pc)"/>
<path d="M62.30 415.35H66.3M62.30 274.25H66.3M62.30 133.15H66.3M101.06 434.3V438.20M254.16 434.3V438.20M407.25 434.3V438.20M560.36 434.3V438.20" stroke="#000" stroke-width="1.42" fill="none"/>
<g opacity="0.999">
<text transform="translate(59.4,419.95) scale(1.0,1)" font-size="13.0" text-anchor="end">0</text>
<text transform="translate(59.4,278.85) scale(1.0,1)" font-size="13.0" text-anchor="end">100</text>
<text transform="translate(59.4,137.75) scale(1.0,1)" font-size="13.0" text-anchor="end">200</text>
<text transform="translate(101.66,449.9) scale(1.0,1)" font-size="13.0" text-anchor="middle">200</text>
<text transform="translate(254.75,449.9) scale(1.0,1)" font-size="13.0" text-anchor="middle">400</text>
<text transform="translate(407.86,449.9) scale(1.0,1)" font-size="13.0" text-anchor="middle">600</text>
<text transform="translate(560.96,449.9) scale(1.0,1)" font-size="13.0" text-anchor="middle">800</text>
<text transform="translate(364.75,468.8) scale(1.024,1)" font-size="16.5" text-anchor="middle">Wavelength (nm)</text>
<g transform="translate(27.9,283.2) rotate(-90)">
<text transform="scale(1.053,1)" font-size="16.5">Absorption (m</text>
<text transform="translate(108.3,-9.2)" font-size="11.2">−</text>
<text transform="translate(114.8,-9.2) scale(0.8,1)" font-size="11.2">1</text>
<text transform="translate(120.3,0) scale(0.9,1)" font-size="16.5">)</text>
</g>
</g>
</svg></body></html>
